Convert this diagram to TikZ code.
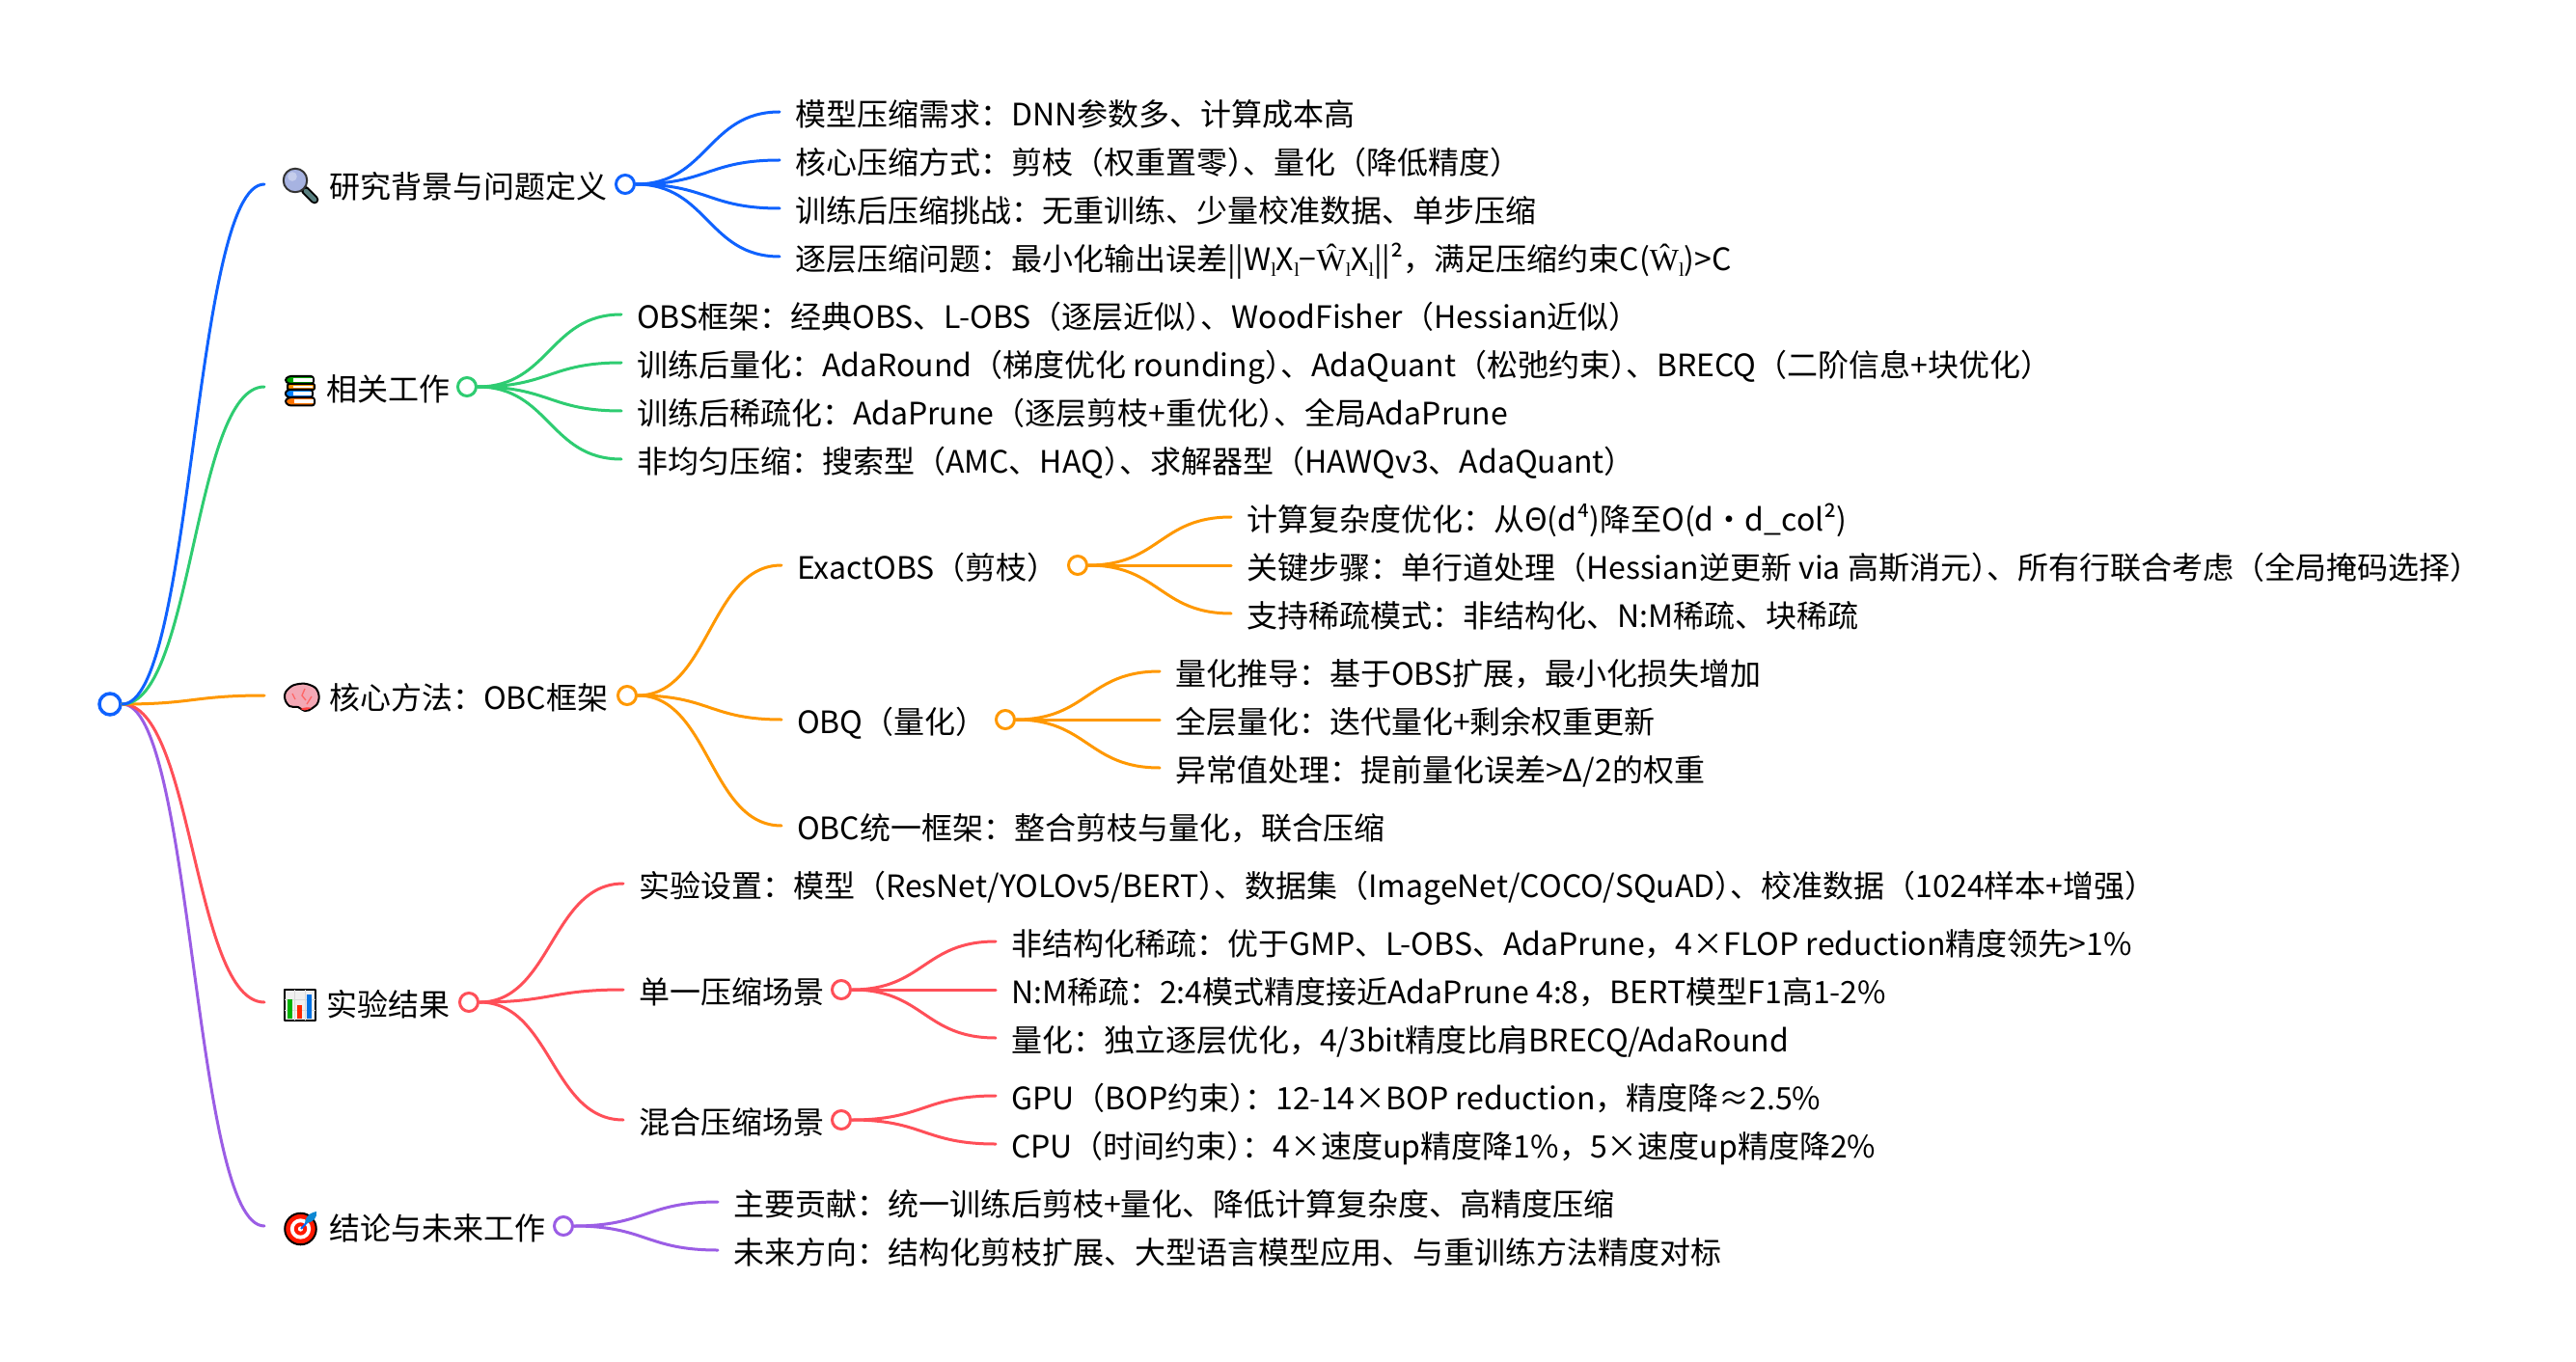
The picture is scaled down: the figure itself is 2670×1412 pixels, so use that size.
\documentclass[tikz,border=0pt]{standalone}
\usepackage{fontspec}
\setmainfont{Noto Sans CJK SC}
\newfontfamily\serfam{Liberation Serif}
\usetikzlibrary{calc}
\newcommand\subl{\raisebox{-0.2em}{\serfam\fontsize{15}{15}\selectfont l}}
\newcommand\ser[1]{{\serfam #1}}
\newcommand\tr{\kern-0.5em}
\definecolor{cb}{HTML}{0F62FE}
\definecolor{cg}{HTML}{2ECC71}
\definecolor{co}{HTML}{FF9800}
\definecolor{cr}{HTML}{FF4F58}
\definecolor{cp}{HTML}{9B5DE5}
\tikzset{
  lab/.style={anchor=west,inner xsep=12pt,inner ysep=0pt,outer sep=0pt,text height=21.6pt,text depth=0pt,font=\fontsize{24}{24}\selectfont,text=black},
  dot/.style={circle,draw,fill=white,line width=2.25pt,minimum size=14.25pt,inner sep=0pt},
  rootdot/.style={circle,draw=cb,fill=white,line width=2.6pt,minimum size=16.5pt,inner sep=0pt},
  link/.style={line width=2.25pt,line cap=round},
  ol/.style={draw=black,line width=1.5pt,line join=round}
}
\newcommand\lnk[3]{\draw[link,#1] let \p1=(#2),\p2=(#3) in (\p1) .. controls ({0.5*\x1+0.5*\x2},\y1) and ({0.5*\x1+0.5*\x2},\y2) .. (\p2);}
\begin{document}
\begin{tikzpicture}[x=0.75pt,y=-0.75pt]
\useasboundingbox (0,0) rectangle (2670,1412);
\fill[white] (0,0) rectangle (2670,1412);

% root
\node[rootdot] (root) at (114,730) {};

% level-1 ends
\coordinate (e1) at (274,191);
\coordinate (e2) at (274,401);
\coordinate (e3) at (274,721);
\coordinate (e4) at (274,1039);
\coordinate (e5) at (274,1271);

% level-1 titles
\node[lab] (t1) at (325,191) {研究背景与问题定义};
\node[lab] (t2) at (322,401) {相关工作};
\node[lab] (t3) at (325,721) {核心方法：OBC框架};
\node[lab] (t4) at (322,1039) {实验结果};
\node[lab] (t5) at (325,1271) {结论与未来工作};

% dots
\node[dot,draw=cb] (c1) at (648,191) {};
\node[dot,draw=cg] (c2) at (484,401) {};
\node[dot,draw=co] (c3) at (650,721) {};
\node[dot,draw=cr] (c4) at (486,1039) {};
\node[dot,draw=cp] (c5) at (584,1271) {};
\node[dot,draw=co] (c31) at (1117,586) {};
\node[dot,draw=co] (c32) at (1042,746) {};
\node[dot,draw=cr] (c42) at (872,1026) {};
\node[dot,draw=cr] (c43) at (872,1161) {};

% branch 1
\node[lab] (n11) at (808,116) {模型压缩需求：DNN参数多、计算成本高};
\node[lab] (n12) at (808,166) {核心压缩方式：剪枝（权重置零）\tr、量化（降低精度）};
\node[lab] (n13) at (808,216) {训练后压缩挑战：无重训练、少量校准数据、单步压缩};
\node[lab] (n14) at (808,266) {逐层压缩问题：最小化输出误差||W\subl{}X\subl{}−\ser{Ŵ}\subl{}X\subl{}||²，满足压缩约束C(\ser{Ŵ}\subl{})>C};
% branch 2
\node[lab] (n21) at (644,326) {OBS框架：经典OBS、L-OBS（逐层近似）\tr、WoodFisher（Hessian近似）};
\node[lab] (n22) at (644,376) {训练后量化：AdaRound（梯度优化 rounding）\tr、AdaQuant（松弛约束）\tr、BRECQ（二阶信息+块优化）};
\node[lab] (n23) at (644,426) {训练后稀疏化：AdaPrune（逐层剪枝+重优化）\tr、全局AdaPrune};
\node[lab] (n24) at (644,476) {非均匀压缩：搜索型（AMC、HAQ）\tr、求解器型（HAWQv3、AdaQuant）};
% branch 3
\node[lab] (n31) at (810,586) {ExactOBS（剪枝）};
\node[lab] (n32) at (810,746) {OBQ（量化）};
\node[lab] (n33) at (810,856) {OBC统一框架：整合剪枝与量化，联合压缩};
\node[lab] (n311) at (1276,536) {计算复杂度优化：从Θ(d⁴)降至O(d・d\_col²)};
\node[lab] (n312) at (1276,586) {关键步骤：单行道处理（Hessian逆更新 via 高斯消元）\tr、所有行联合考虑（全局掩码选择）};
\node[lab] (n313) at (1276,636) {支持稀疏模式：非结构化、N:M稀疏、块稀疏};
\node[lab] (n321) at (1202,696) {量化推导：基于OBS扩展，最小化损失增加};
\node[lab] (n322) at (1202,746) {全层量化：迭代量化+剩余权重更新};
\node[lab] (n323) at (1202,796) {异常值处理：提前量化误差>Δ/2的权重};
% branch 4
\node[lab] (n41) at (646,916) {实验设置：模型（ResNet/YOLOv5/BERT）\tr、数据集（ImageNet/COCO/SQuAD）\tr、校准数据（1024样本+增强）};
\node[lab] (n42) at (646,1026) {单一压缩场景};
\node[lab] (n43) at (646,1161) {混合压缩场景};
\node[lab] (n421) at (1032,976) {非结构化稀疏：优于GMP、L-OBS、AdaPrune，4×FLOP reduction精度领先>1\%};
\node[lab] (n422) at (1032,1026) {N:M稀疏：2:4模式精度接近AdaPrune 4:8，BERT模型F1高1-2\%};
\node[lab] (n423) at (1032,1076) {量化：独立逐层优化，4/3bit精度比肩BRECQ/AdaRound};
\node[lab] (n431) at (1032,1136) {GPU（BOP约束）\tr：12-14×BOP reduction，精度降≈2.5\%};
\node[lab] (n432) at (1032,1186) {CPU（时间约束）\tr：4×速度up精度降1\%，5×速度up精度降2\%};
% branch 5
\node[lab] (n51) at (744,1246) {主要贡献：统一训练后剪枝+量化、降低计算复杂度、高精度压缩};
\node[lab] (n52) at (744,1296) {未来方向：结构化剪枝扩展、大型语言模型应用、与重训练方法精度对标};

% links
\lnk{cp}{root.east}{e5}
\lnk{cr}{root.east}{e4}
\lnk{co}{root.east}{e3}
\lnk{cg}{root.east}{e2}
\lnk{cb}{root.east}{e1}
\foreach \kid in {n11,n12,n13,n14}{\lnk{cb}{c1.east}{\kid.west}}
\foreach \kid in {n21,n22,n23,n24}{\lnk{cg}{c2.east}{\kid.west}}
\foreach \kid in {n31,n32,n33}{\lnk{co}{c3.east}{\kid.west}}
\foreach \kid in {n311,n312,n313}{\lnk{co}{c31.east}{\kid.west}}
\foreach \kid in {n321,n322,n323}{\lnk{co}{c32.east}{\kid.west}}
\foreach \kid in {n41,n42,n43}{\lnk{cr}{c4.east}{\kid.west}}
\foreach \kid in {n421,n422,n423}{\lnk{cr}{c42.east}{\kid.west}}
\foreach \kid in {n431,n432}{\lnk{cr}{c43.east}{\kid.west}}
\foreach \kid in {n51,n52}{\lnk{cp}{c5.east}{\kid.west}}

% icon: magnifier
\draw[line width=6.5pt,black,line cap=round] (316,197) -- (326,207);
\draw[line width=3.5pt,color=gray!70!teal,line cap=round] (317,198) -- (326,207);
\draw[ol,fill=cyan!35!blue!35!white,draw=black!80] (306,187) circle (9.2pt);
\fill[white,opacity=.35] (303,183) circle (3.6pt);

% icon: books
\draw[ol,fill=green!65!black,rounded corners=2pt] (325,390) -- (299,390) -- (295,394) -- (299,398) -- (325,398) -- cycle;
\fill[white] (304,392) rectangle (324,396);
\draw[ol,fill=orange!85!yellow,rounded corners=1pt] (326,398) -- (298,398) -- (298,404) -- (326,404) -- cycle;
\fill[white] (304,400) rectangle (324,402);
\draw[ol,fill=blue!50!cyan,rounded corners=2pt] (324,404) -- (298,404) -- (295,408) -- (298,412) -- (324,412) -- cycle;
\fill[white] (304,406) rectangle (323,410);
\draw[ol,fill=orange!90!red,rounded corners=2pt] (326,412) -- (299,412) -- (295,416) -- (299,420.5) -- (326,420.5) -- cycle;
\fill[white] (305,414) rectangle (325,418.5);

% icon: brain
\draw[ol,fill=red!60!blue!12!pink] plot[smooth cycle,tension=.75] coordinates {(295,722) (300,713) (310,709) (321,710) (329,716) (330,727) (324,734) (316,737) (309,733) (300,732)};
\fill[red!75!white] (311,735) .. controls (316,733) and (320,733) .. (323,734) -- (316,736.5) -- cycle;
\draw[red!60!white,line width=1pt] (303,719) -- (306,725) (316,714) -- (313,721) -- (317,726) (323,722) -- (318,730);

% icon: chart
\draw[ol,fill=black!6] (295,1026) rectangle (327,1058);
\draw[black!15,line width=.7pt] (295,1036) -- (327,1036) (295,1047) -- (327,1047) (305.5,1026) -- (305.5,1058) (316,1026) -- (316,1058);
\fill[green!70!black] (298,1036) rectangle (303,1056);
\fill[red!70!orange] (308,1042) rectangle (313,1056);
\fill[blue!50!cyan!90!black] (318,1031) rectangle (323,1056);

% icon: target
\draw[ol,fill=red!80!orange] (311.5,1274) circle (12.2pt);
\fill[white] (311.5,1274) circle (8pt);
\fill[red!80!orange] (311.5,1274) circle (5pt);
\fill[white] (311.5,1274) circle (2pt);
\draw[blue!60!cyan,line width=1.5pt] (312,1274) -- (321,1264);
\fill[cyan!70!blue] (316,1268) .. controls (317,1259) and (323,1257) .. (328,1256) .. controls (329,1262) and (325,1268) .. (316,1268) -- cycle;
\end{tikzpicture}
\end{document}
